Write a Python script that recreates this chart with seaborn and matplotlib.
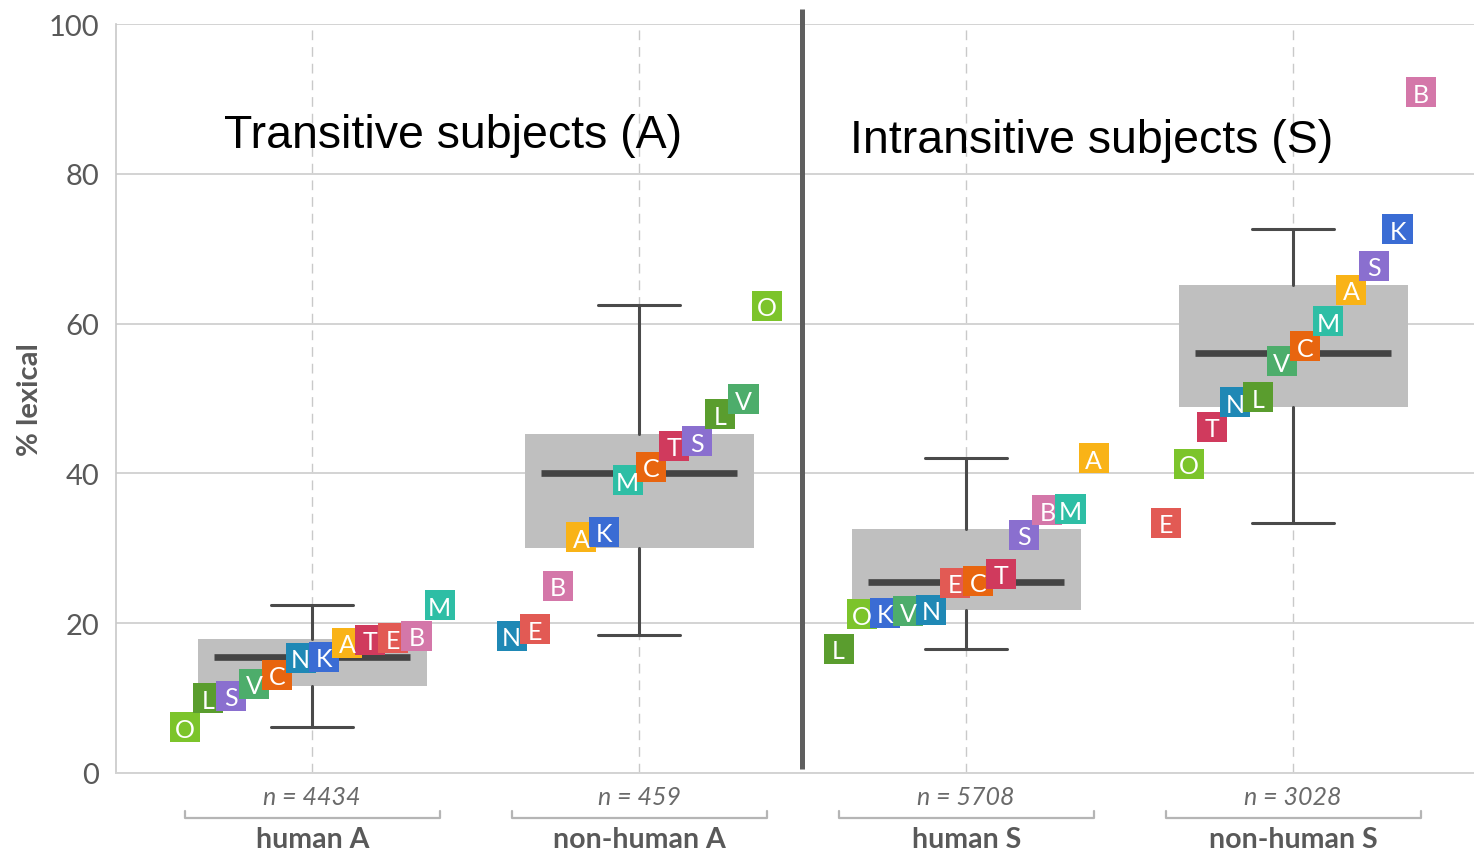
import numpy as np
import pandas as pd
import matplotlib
matplotlib.use("Agg")
import matplotlib.pyplot as plt
import matplotlib.transforms as mtransforms
import seaborn as sns

# ---- data -------------------------------------------------------------
groups = ["human A", "non-human A", "human S", "non-human S"]
group_n = [4434, 459, 5708, 3028]

letters = ["A", "B", "C", "E", "K", "L", "M", "N", "O", "S", "T", "V"]
human_A = [17.4, 18.3, 13.1, 18.0, 15.5, 10.0, 22.4, 15.4, 6.1, 10.3, 17.8, 11.9]
nonhuman_A = [31.5, 25.0, 40.9, 19.2, 32.2, 47.9, 39.1, 18.3, 62.4, 44.3, 43.7, 49.9]
human_S = [42.0, 35.1, 25.6, 25.4, 21.4, 16.6, 35.2, 21.8, 21.2, 31.8, 26.6, 21.6]
nonhuman_S = [64.5, 90.9, 57.0, 33.4, 72.6, 50.2, 60.3, 49.5, 41.3, 67.7, 46.2, 55.0]

# box summaries per group
box_q1 = [11.6, 30.0, 21.8, 48.9]
box_med = [15.5, 40.0, 25.5, 56.1]
box_q3 = [17.9, 45.3, 32.6, 65.2]
whisk_lo = [6.1, 18.4, 16.6, 33.4]
whisk_hi = [22.4, 62.5, 42.1, 72.6]

letter_colors = {
    "O": "#7cc42b", "L": "#5a9d2e", "S": "#8a6fcf", "V": "#4dad6b",
    "C": "#e8650f", "N": "#1f88b5", "K": "#3a6cd4", "A": "#f9b317",
    "T": "#d03a5d", "E": "#e25a54", "B": "#d477a9", "M": "#2ebea5",
}

panel_titles = ["Transitive subjects (A)", "Intransitive subjects (S)"]

# ---- style ------------------------------------------------------------
sns.set_theme(style="white")
plt.rcParams["font.family"] = ["Lato", "DejaVu Sans"]

GRAY_TXT = "#595959"
GRID = "#d3d3d3"

fig = plt.figure(figsize=(14.74, 8.54), dpi=100)
ax = fig.add_axes([116 / 1474, 80 / 854, 1 - 116 / 1474, 749 / 854])

# long-form table of letter values, dodged by rank within each group
series = [human_A, nonhuman_A, human_S, nonhuman_S]
rows = []
for gi, vals in enumerate(series):
    vals = np.asarray(vals)
    order = np.argsort(vals, kind="stable")
    rank = np.empty(len(vals), dtype=int)
    rank[order] = np.arange(len(vals))
    step = 0.78 / (len(vals) - 1)
    for li, letter in enumerate(letters):
        rows.append({"group": groups[gi], "letter": letter, "value": vals[li],
                     "xpos": gi - 0.39 + rank[li] * step, "rank": rank[li]})
df = pd.DataFrame(rows).sort_values(["group", "rank"], kind="stable")

# ---- boxes ------------------------------------------------------------
stats = [dict(med=box_med[i], q1=box_q1[i], q3=box_q3[i],
              whislo=whisk_lo[i], whishi=whisk_hi[i], fliers=[])
         for i in range(len(groups))]
ax.bxp(stats, positions=range(len(groups)), widths=0.70, capwidths=0.25,
       patch_artist=True, showfliers=False,
       boxprops=dict(facecolor="#bfbfbf", edgecolor="none", linewidth=0),
       whiskerprops=dict(color="#4a4a4a", linewidth=2.2),
       capprops=dict(color="#4a4a4a", linewidth=2.2),
       medianprops=dict(visible=False), zorder=2)
ax.hlines(box_med, np.arange(len(groups)) - 0.30, np.arange(len(groups)) + 0.30,
          color="#444444", linewidth=4.8, zorder=3)

# ---- letter squares ---------------------------------------------------
sns.scatterplot(data=df, x="xpos", y="value", hue="letter", palette=letter_colors,
                marker="s", s=470, linewidth=0, legend=False, ax=ax, zorder=4)
for _, r in df.iterrows():
    ax.text(r["xpos"], r["value"], r["letter"], ha="center", va="center_baseline",
            color="white", fontsize=18, zorder=5)

# ---- axes styling -----------------------------------------------------
ax.set_xlim(-0.6, 3.553)
ax.set_ylim(0, 100)
ax.set_yticks([0, 20, 40, 60, 80, 100])
ax.set_xticks(range(len(groups)))
ax.set_xticklabels([""] * len(groups))
ax.tick_params(axis="y", length=5, width=1, color="#c8c8c8", pad=7,
               labelsize=21, labelcolor=GRAY_TXT)
ax.tick_params(axis="x", length=0)
ax.yaxis.grid(True, color=GRID, linewidth=1.4)
ax.xaxis.grid(True, color="#c9c9c9", linewidth=1.0, linestyle=(0, (7, 5)))
ax.set_axisbelow(True)
for side in ["top", "right"]:
    ax.spines[side].set_visible(False)
ax.spines["left"].set_color("#c8c8c8")
ax.spines["bottom"].set_color(GRID)
ax.spines["left"].set_linewidth(1.2)
ax.spines["bottom"].set_linewidth(1.4)
ax.set_xlabel("")
ax.set_ylabel("")

# divider between the two panels
ax.plot([1.497, 1.497], [0.5, 102], color="#5f5f5f", linewidth=3.6,
        clip_on=False, zorder=6, solid_capstyle="butt")

# panel titles
ax.text(0.43, 85.2, panel_titles[0], ha="center", va="center", fontsize=33.5,
        family=["Liberation Sans", "DejaVu Sans"], color="black", zorder=7)
ax.text(2.385, 84.5, panel_titles[1], ha="center", va="center", fontsize=33.5,
        family=["Liberation Sans", "DejaVu Sans"], color="black", zorder=7)

# category labels under the axis
trans = mtransforms.blended_transform_factory(ax.transData, ax.transAxes)
for gi, (name, n) in enumerate(zip(groups, group_n)):
    ax.text(gi, -0.031, f"n = {n}", transform=trans, ha="center", va="center",
            fontsize=18, style="italic", color="#6a6a6a")
    ax.plot([gi - 0.39, gi - 0.39, gi + 0.39, gi + 0.39],
            [-0.051, -0.060, -0.060, -0.051], transform=trans,
            color="#b5b5b5", linewidth=1.6, clip_on=False)
    ax.text(gi, -0.088, name, transform=trans, ha="center", va="center",
            fontsize=20.5, fontweight="bold", color=GRAY_TXT)

fig.text(30 / 1474, 1 - 400 / 854, "% lexical", rotation=90, ha="center",
         va="center", fontsize=21, fontweight="bold", color=GRAY_TXT)

fig.savefig("out.png", dpi=100)
